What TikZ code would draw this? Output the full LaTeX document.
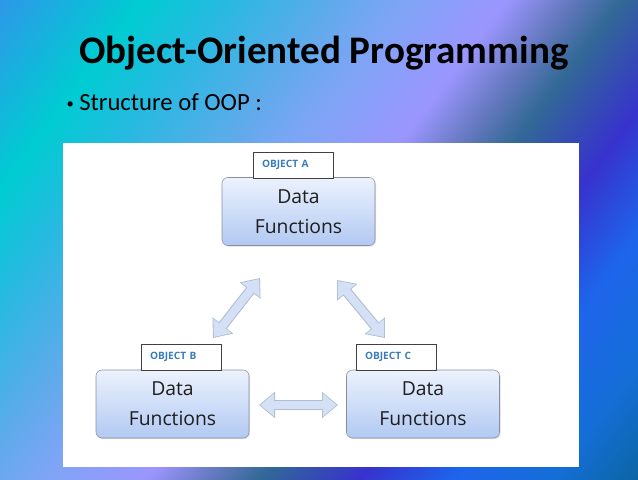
\documentclass[tikz,border=0pt]{standalone}
\usepackage{fontspec}
\setmainfont{Carlito}
\newfontfamily\boxfont{Open Sans}
\usetikzlibrary{arrows.meta,shadows}

\definecolor{bgA}{RGB}{40,140,235}
\definecolor{bgB}{RGB}{45,152,232}
\definecolor{bgC}{RGB}{0,204,210}
\definecolor{bgD}{RGB}{40,185,225}
\definecolor{bgE}{RGB}{95,170,235}
\definecolor{bgM}{RGB}{125,165,245}
\definecolor{bgF}{RGB}{155,150,255}
\definecolor{bgG}{RGB}{100,120,190}
\definecolor{bgH}{RGB}{50,105,150}
\definecolor{bgI}{RGB}{55,50,205}
\definecolor{bgJ}{RGB}{30,100,235}
\definecolor{bgK}{RGB}{20,110,215}
\definecolor{bgL}{RGB}{10,100,155}
\definecolor{boxtop}{RGB}{236,242,253}
\definecolor{boxbot}{RGB}{178,201,243}
\definecolor{boxedge}{RGB}{135,142,162}
\definecolor{datatext}{RGB}{30,30,30}
\definecolor{labelblue}{RGB}{60,125,185}
\definecolor{arrowfill}{RGB}{212,224,246}
\definecolor{arrowedge}{RGB}{176,188,206}

\pgfdeclarehorizontalshading{oceanbg}{100bp}{color(0bp)=(bgA); color(15bp)=(bgB);
  color(25bp)=(bgC); color(31bp)=(bgD); color(38.5bp)=(bgE); color(43bp)=(bgM);
  color(50.5bp)=(bgF); color(55bp)=(bgG); color(58.5bp)=(bgH); color(65.5bp)=(bgI);
  color(72bp)=(bgJ); color(79bp)=(bgK); color(86bp)=(bgL); color(100bp)=(bgL)}

\begin{document}
\begin{tikzpicture}[x=0.75pt,y=-0.75pt,
  objbox/.style={draw=boxedge, rounded corners=4.5pt, top color=boxtop, bottom color=boxbot,
    minimum width=114.75pt, minimum height=51pt, align=center, text=datatext,
    font=\boxfont\fontsize{14.5}{22.5}\selectfont,
    drop shadow={shadow xshift=0.8pt, shadow yshift=-0.8pt, opacity=0.25}},
  objlabel/.style={draw=black!75, fill=white, minimum width=60pt, minimum height=19.5pt,
    text width=46.5pt, inner xsep=6.75pt, align=left, text=labelblue,
    font=\boxfont\bfseries\fontsize{7.6}{9}\selectfont},
  fatedge/.style={draw=arrowedge, line width=7.6pt,
    {Triangle[width=19pt,length=12pt]}-{Triangle[width=19pt,length=12pt]}},
  fatarrow/.style={draw=arrowfill, line width=6pt, shorten <=1pt, shorten >=1pt,
    {Triangle[width=16.6pt,length=10.4pt]}-{Triangle[width=16.6pt,length=10.4pt]}}]
\useasboundingbox (0,0) rectangle (638,479);
\shade[shading=oceanbg, shading angle=-37] (0,0) rectangle (638,479);
%\draw[step=50,gray,very thin] (0,0) grid (638,479); %background grid
\node[anchor=base, font=\fontsize{29.3}{35}\selectfont\bfseries] (title) at (324,63.3) {Object-Oriented Programming};
\node[anchor=base west, font=\fontsize{18.5}{23}\selectfont] (bullet) at (62,110) {\raisebox{1.5pt}{\fontsize{11}{11}\selectfont\textbullet}\hspace{4pt}Structure of OOP :};
\fill[white] (63,143) rectangle (579,467);

\node[objbox] (boxA) at (298.5,211.5) {Data\\Functions};
\node[objbox] (boxB) at (172.5,404) {Data\\Functions};
\node[objbox] (boxC) at (423,404) {Data\\Functions};
\node[objlabel] (lblA) at (293,165) {OBJECT A};
\node[objlabel] (lblB) at (181,357) {OBJECT B};
\node[objlabel] (lblC) at (396,357) {OBJECT C};

\coordinate (abB) at (213,338);
\coordinate (abA) at (260,278);
\coordinate (acA) at (337,280);
\coordinate (acC) at (385,338);
\coordinate (bcB) at (259,405);
\coordinate (bcC) at (338,405);
\draw[fatedge] (abB) -- (abA);
\draw[fatarrow] (abB) -- (abA);
\draw[fatedge] (acA) -- (acC);
\draw[fatarrow] (acA) -- (acC);
\draw[fatedge] (bcB) -- (bcC);
\draw[fatarrow] (bcB) -- (bcC);

\end{tikzpicture}
\end{document}
